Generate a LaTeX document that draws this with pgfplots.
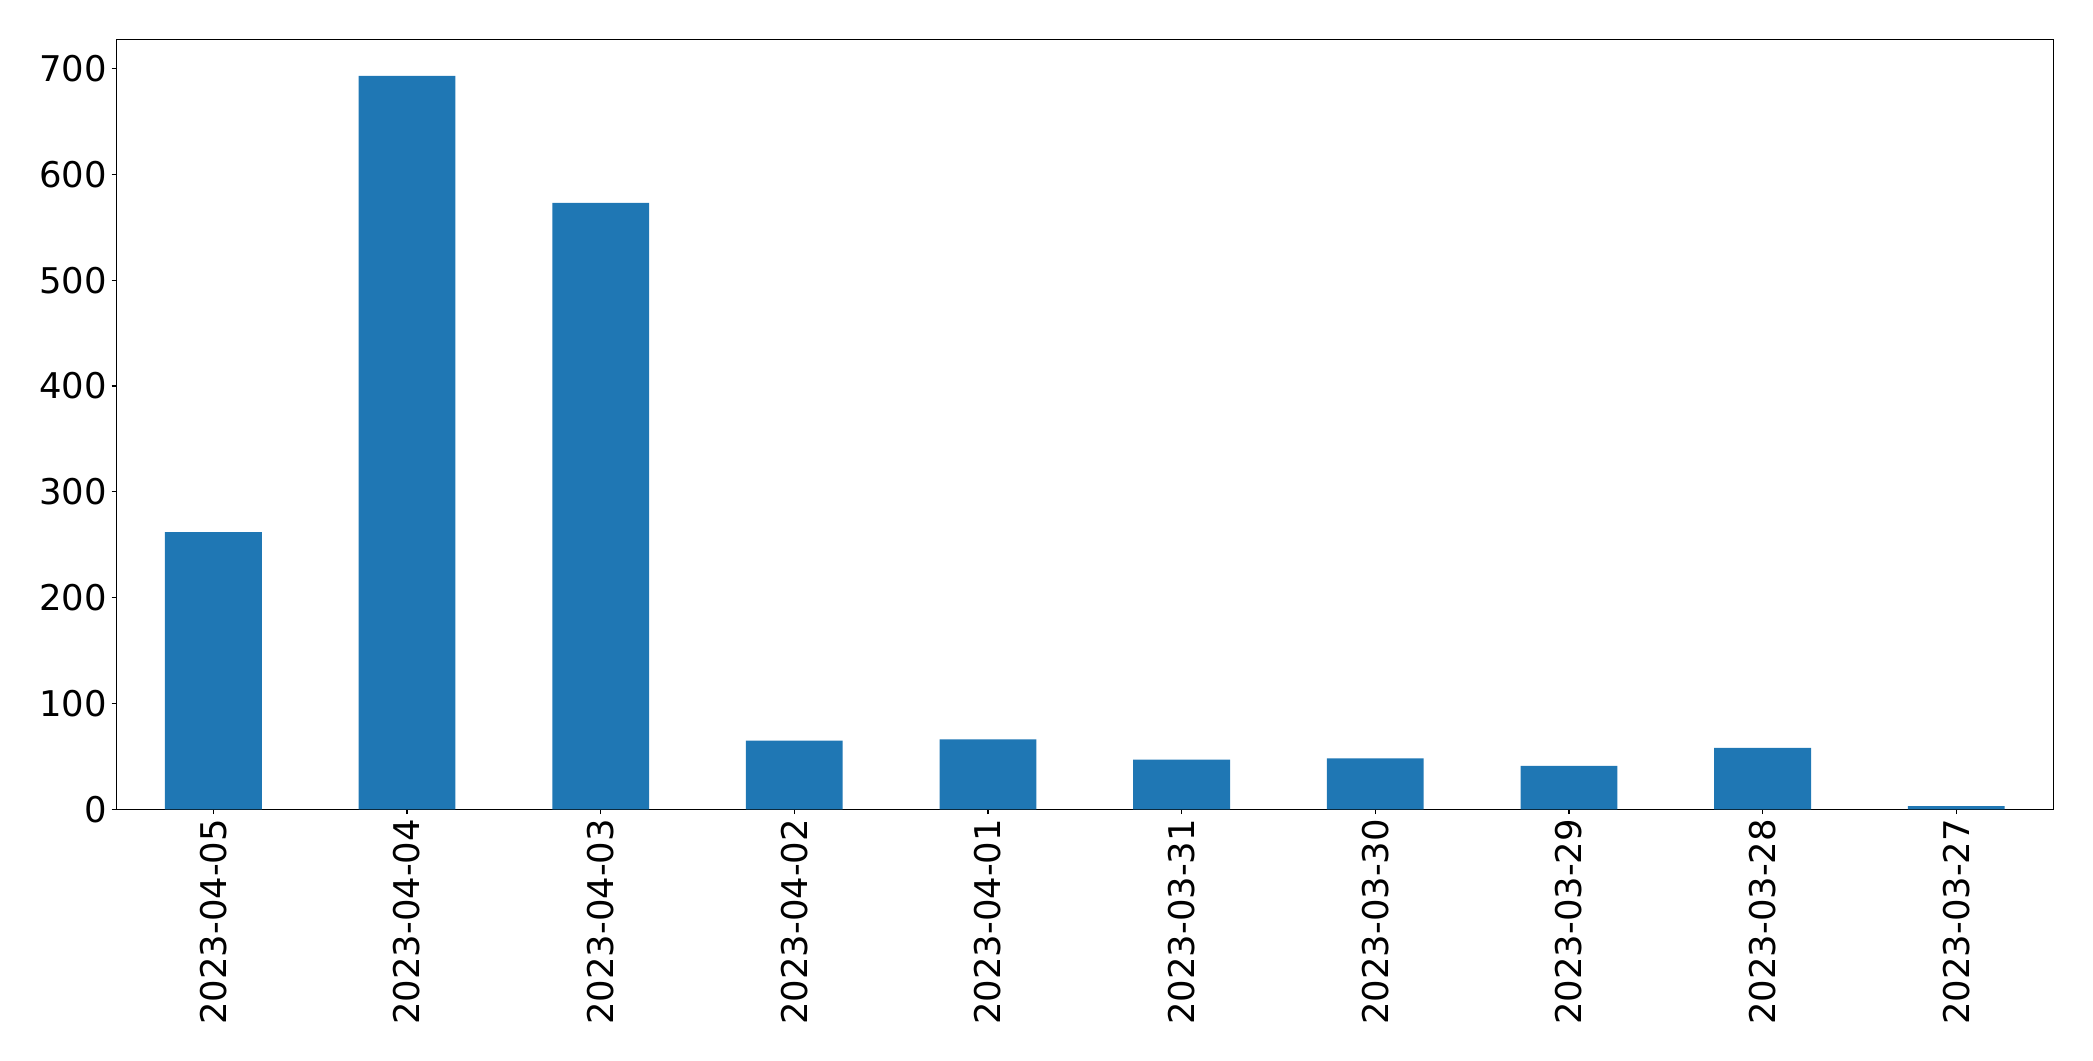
\documentclass[border=0pt]{standalone}
\usepackage{pgfplots}
\pgfplotsset{compat=1.18}
\usepackage{fontspec}
\setmainfont{DejaVu Sans}
\definecolor{tabblue}{HTML}{1F77B4}
\begin{document}
\begin{tikzpicture}
\useasboundingbox (-83.9pt,-181.2pt) rectangle (1423.1pt,582.7pt);
\begin{axis}[
  at={(0,0)}, anchor=south west,
  scale only axis,
  width=1394.3pt, height=554.4pt,
  xmin=-0.5, xmax=9.5,
  ymin=0, ymax=727.65,
  xtick={0,1,2,3,4,5,6,7,8,9},
  xticklabels={2023-04-05,2023-04-04,2023-04-03,2023-04-02,2023-04-01,2023-03-31,2023-03-30,2023-03-29,2023-03-28,2023-03-27},
  ytick={0,100,200,300,400,500,600,700},
  tick align=outside,
  xtick pos=bottom, ytick pos=left,
  major tick length=3.5pt,
  tick style={line width=0.8pt, black},
  axis line style={line width=0.8pt, black},
  /pgf/number format/assume math mode=true,
  /pgf/number format/1000 sep={},
  ticklabel style={font=\fontsize{25.5}{30}\selectfont},
  xticklabel style={rotate=90, anchor=east},
]
\addplot[ybar, bar width=0.5, fill=tabblue, draw=none] coordinates {
  (0,262) (1,693) (2,573) (3,65) (4,66) (5,47) (6,48) (7,41) (8,58) (9,3)
};
\end{axis}
\end{tikzpicture}
\end{document}
